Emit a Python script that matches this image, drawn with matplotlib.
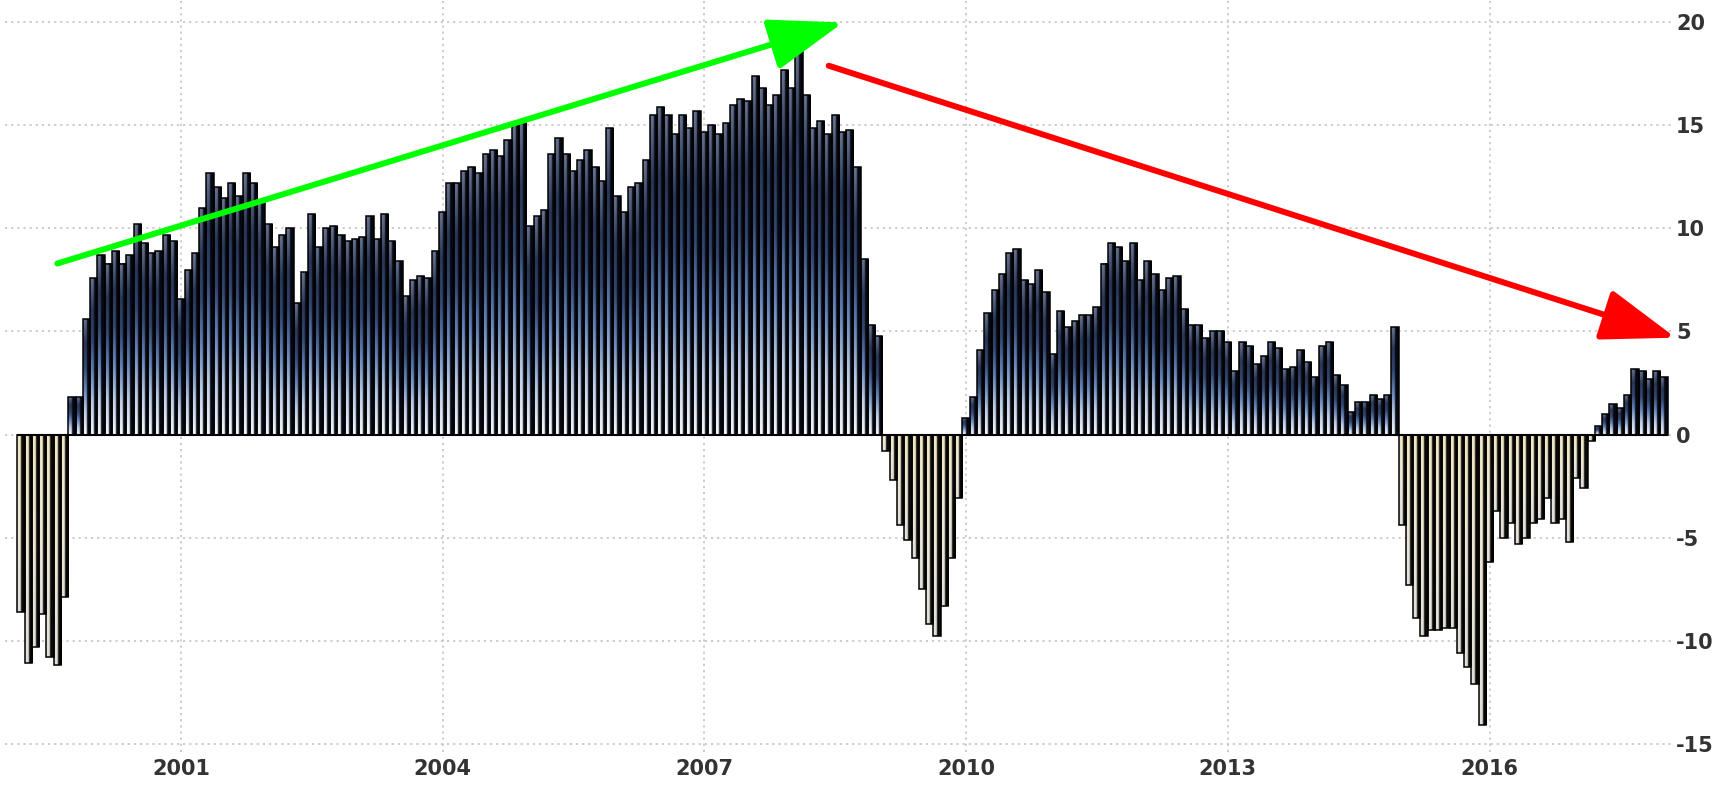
import numpy as np
import pandas as pd
import matplotlib
matplotlib.use('Agg')
import matplotlib.pyplot as plt
from matplotlib.patches import FancyArrowPatch, ArrowStyle
from matplotlib.colors import LinearSegmentedColormap, to_rgb

# 月度数据 1999-03 .. 2018-01
months = pd.date_range('1999-03-01', '2018-01-01', freq='MS')
values = [
    -8.6, -11.1, -10.3, -8.7, -10.8, -11.2, -7.9, 1.8, 1.8, 5.6,
    7.6, 8.7, 8.3, 8.9, 8.3, 8.7, 10.2, 9.3, 8.8, 8.9,
    9.7, 9.4, 6.6, 8.0, 8.8, 11.0, 12.7, 12.0, 11.5, 12.2,
    11.6, 12.7, 12.2, 11.3, 10.2, 9.1, 9.7, 10.0, 6.4, 7.9,
    10.7, 9.1, 10.0, 10.1, 9.7, 9.4, 9.5, 9.6, 10.6, 9.5,
    10.7, 9.4, 8.4, 6.7, 7.5, 7.7, 7.6, 8.9, 10.8, 12.2,
    12.2, 12.8, 13.0, 12.7, 13.6, 13.8, 13.5, 14.3, 15.0, 15.1,
    10.1, 10.6, 10.9, 13.6, 14.4, 13.6, 12.8, 13.3, 13.8, 13.0,
    12.3, 14.9, 11.6, 10.8, 12.0, 12.2, 13.3, 15.5, 15.9, 15.5,
    14.6, 15.5, 14.9, 15.7, 14.7, 15.0, 14.6, 15.1, 16.0, 16.3,
    16.2, 17.4, 16.8, 16.0, 16.5, 17.7, 16.8, 18.7, 16.5, 14.9,
    15.2, 14.6, 15.5, 14.7, 14.8, 13.0, 8.5, 5.3, 4.8, -0.8,
    -2.2, -4.4, -5.1, -6.0, -7.5, -9.2, -9.8, -8.3, -6.0, -3.1,
    0.8, 1.8, 4.1, 5.9, 7.0, 7.8, 8.8, 9.0, 7.5, 7.3,
    8.0, 6.9, 3.9, 6.0, 5.2, 5.5, 5.8, 5.8, 6.2, 8.3,
    9.3, 9.1, 8.4, 9.3, 7.5, 8.4, 7.8, 7.0, 7.6, 7.7,
    6.1, 5.3, 5.3, 4.7, 5.0, 5.0, 4.5, 3.1, 4.5, 4.3,
    3.4, 3.8, 4.5, 4.2, 3.2, 3.3, 4.1, 3.5, 2.8, 4.3,
    4.5, 2.9, 2.4, 1.1, 1.6, 1.6, 1.9, 1.7, 1.9, 5.2,
    -4.4, -7.3, -8.9, -9.8, -9.5, -9.5, -9.4, -9.4, -10.6, -11.3,
    -12.1, -14.1, -6.2, -3.7, -5.0, -4.3, -5.3, -5.0, -4.3, -4.1,
    -3.1, -4.3, -4.1, -5.2, -2.1, -2.6, -0.3, 0.4, 1.0, 1.5,
    1.3, 1.9, 3.2, 3.1, 2.7, 3.1, 2.8,
]
tick_years = [2001, 2004, 2007, 2010, 2013, 2016]
y_ticks = [-15, -10, -5, 0, 5, 10, 15, 20]

# 箭头 (月序号, 数值)
green_arrow = [(5.0, 8.3), (113.1, 20.0)]
red_arrow = [(111.1, 17.9), (227.6, 4.7)]

plt.rcParams['axes.unicode_minus'] = False
plt.rcParams['font.family'] = ['DejaVu Sans']
plt.rcParams['font.weight'] = 'bold'

x = np.arange(len(values))
vals = np.array(values)

fig = plt.figure(figsize=(17.19, 7.88), dpi=100)
ax = fig.add_axes([5 / 1719, 36 / 788, 1667 / 1719, 752 / 788])

# 渐变色 (底 -> 顶)
pos_light = LinearSegmentedColormap.from_list(
    'pl', ['#f4f7fb', '#bccbe4', '#6482b6', '#33466f', '#2a3656', '#65718c'])
neg_light = LinearSegmentedColormap.from_list(
    'nl', ['#f0e6c4', '#eee8d6', '#e2e0da'])
pos_dark = np.array(to_rgb('#050812'))
neg_dark = np.array(to_rgb('#0a0907'))

ny, nx = 64, 16
f = (np.arange(nx) + 0.5) / nx
w = np.clip((0.56 - f) / 0.12, 0, 1)  # 左侧亮, 右侧暗

for xi, v in zip(x, vals):
    if v == 0:
        continue
    t = np.linspace(0, 1, ny)
    if v > 0:
        light = pos_light(t)[:, :3]
        dark = pos_dark
        ext = (xi - 0.5, xi + 0.5, 0, v)
    else:
        light = neg_light(1 - t)[:, :3]
        dark = neg_dark
        ext = (xi - 0.5, xi + 0.5, v, 0)
    img = light[:, None, :] * w[None, :, None] + dark[None, None, :] * (1 - w[None, :, None])
    ax.imshow(img, extent=ext, origin='lower', aspect='auto',
              interpolation='bilinear', zorder=2)

ax.bar(x, vals, width=1.0, facecolor='none', edgecolor='black',
       linewidth=1.1, zorder=3)
ax.hlines(0, -0.5, len(vals) - 0.5, color='black', linewidth=1.5, zorder=4)

# 坐标轴
ax.set_xlim(-2.2, 227.1)
ax.set_ylim(-15.41, 21.09)
xt = [np.where((months.year == y) & (months.month == 1))[0][0] for y in tick_years]
ax.set_xticks(xt)
ax.set_xticklabels([str(y) for y in tick_years])
ax.set_yticks(y_ticks)
ax.yaxis.tick_right()
ax.tick_params(axis='both', length=0, labelsize=15, labelcolor='#333333')
ax.tick_params(axis='x', pad=5)
ax.tick_params(axis='y', pad=3)
ax.set_axisbelow(True)
ax.grid(True, color='#c8c8c8', linestyle=(0, (1.2, 2.2)), linewidth=1.3)
for s in ax.spines.values():
    s.set_visible(False)

# 箭头
for pts, col in [(green_arrow, '#00ff00'), (red_arrow, '#ff0000')]:
    arr = FancyArrowPatch(posA=pts[0], posB=pts[1],
                          arrowstyle=ArrowStyle('-|>', head_length=46, head_width=16),
                          mutation_scale=1, color=col, linewidth=4.3,
                          shrinkA=0, shrinkB=0, zorder=6, clip_on=False)
    ax.add_patch(arr)

fig.savefig('out.png', dpi=100)
